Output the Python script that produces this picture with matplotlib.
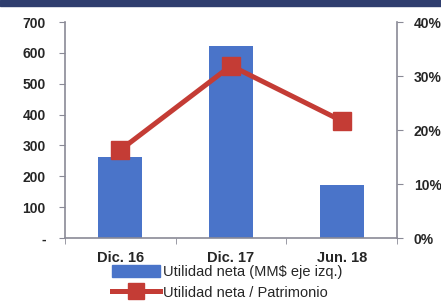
import matplotlib
matplotlib.use("Agg")
import matplotlib.pyplot as plt
from matplotlib.patches import Rectangle
from matplotlib.lines import Line2D

categories = ["Dic. 16", "Dic. 17", "Jun. 18"]
utilidad = [261, 623, 171]
roe = [16.3, 31.9, 21.7]
left_ticks = [0, 100, 200, 300, 400, 500, 600, 700]
left_labels = ["-", "100", "200", "300", "400", "500", "600", "700"]
right_ticks = [0, 10, 20, 30, 40]
right_labels = ["0%", "10%", "20%", "30%", "40%"]

fam = ["Liberation Sans Narrow", "Liberation Sans", "DejaVu Sans"]
plt.rcParams['font.family'] = fam

W, H = 441, 303
fig = plt.figure(figsize=(W/100, H/100), dpi=100)
fig.patch.set_facecolor("white")
# top dark band
fig.patches.append(Rectangle((0, 1 - 6/H), 1, 6/H, transform=fig.transFigure,
                             color="#2f3e6e", zorder=0))

ax = fig.add_axes([65/W, 1 - 238/H, (397-65)/W, (238-22)/H])
bar_col = "#4a74c9"
line_col = "#c43c35"
spine_col = "#8a8a96"
txt_col = "#262626"

x = list(range(len(categories)))
ax.bar(x, utilidad, width=0.4, color=bar_col, zorder=2)
ax.set_xlim(-0.5, len(categories) - 0.5)
ax.set_ylim(0, 700)
ax.set_yticks(left_ticks)
ax.set_yticklabels(left_labels, fontsize=10, fontweight="bold", color=txt_col)
ax.set_xticks(x)
ax.set_xticklabels(categories, fontsize=10.5, fontweight="bold", color=txt_col)
ax.tick_params(axis="x", which="major", length=0, pad=9)
ax.set_xticks([i - 0.5 for i in range(len(categories) + 1)], minor=True)
ax.tick_params(axis="x", which="minor", length=4, color=spine_col, direction="out")
ax.tick_params(axis="y", length=4, color=spine_col, direction="out", pad=10)
for s in ["top", "right"]:
    ax.spines[s].set_visible(False)
for s in ["left", "bottom"]:
    ax.spines[s].set_color(spine_col)
    ax.spines[s].set_linewidth(1.2)

ax2 = ax.twinx()
ax2.plot(x, roe, color=line_col, lw=3.6, marker="s", markersize=13, zorder=3)
ax2.set_ylim(0, 40)
ax2.set_yticks(right_ticks)
ax2.set_yticklabels(right_labels, fontsize=10, fontweight="bold", color=txt_col)
ax2.tick_params(axis="y", length=4, color=spine_col, direction="out", pad=8)
for s in ["top", "left", "bottom"]:
    ax2.spines[s].set_visible(False)
ax2.spines["right"].set_color(spine_col)
ax2.spines["right"].set_linewidth(1.2)

handles = [Rectangle((0, 0), 1, 1, color=bar_col),
           Line2D([0], [0], color=line_col, lw=3.6, marker="s", markersize=11)]
labels = ["Utilidad neta (MM$ eje izq.)", "Utilidad neta / Patrimonio"]
fig.legend(handles, labels, loc="upper left", bbox_to_anchor=(112/W, 1 - 265/H),
           frameon=False, fontsize=10.5, handlelength=3.3, handletextpad=0.2,
           labelspacing=0.45, borderaxespad=0, borderpad=0, handleheight=0.8,
           labelcolor=txt_col)

fig.savefig("out.png", dpi=100)
